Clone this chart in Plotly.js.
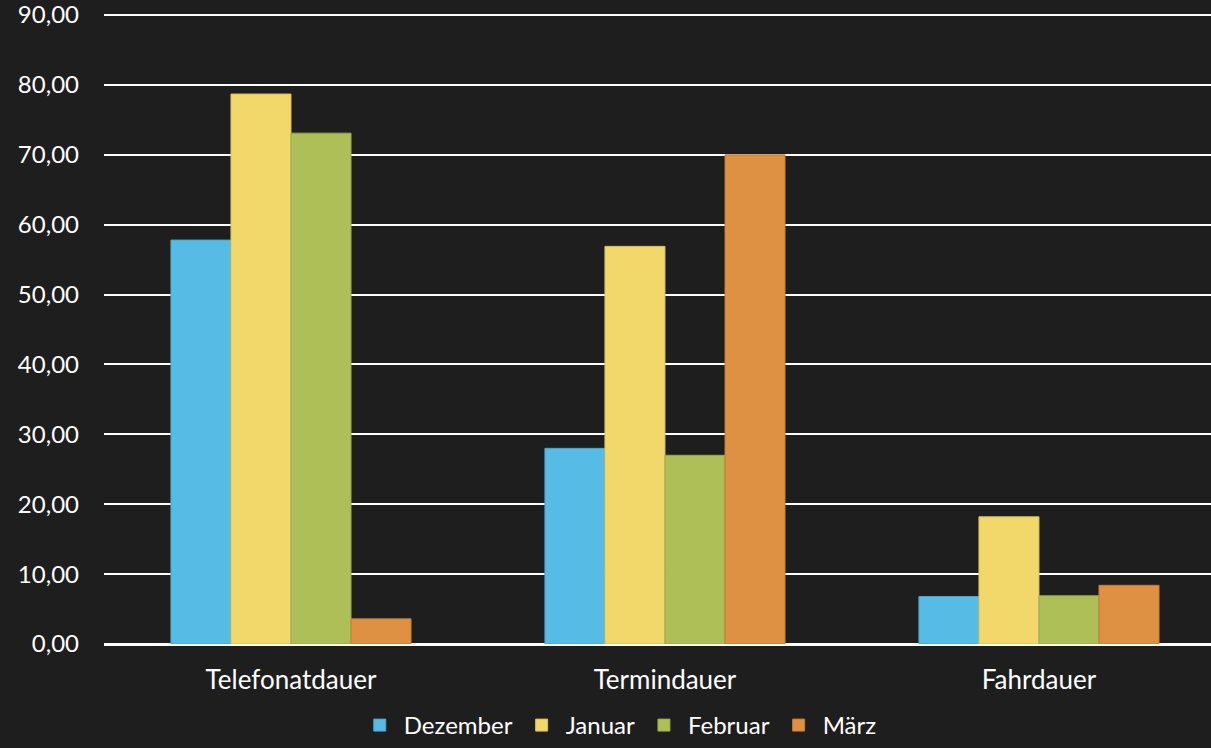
<!DOCTYPE html>
<html>
<head>
<meta charset="utf-8">
<script src="https://cdn.plot.ly/plotly-3.0.1.min.js"></script>
<style>
html,body{margin:0;padding:0;background:#1e1e1e;}
#chart{width:1211px;height:748px;}
</style>
</head>
<body>
<div id="chart"></div>
<script>
const categories = ["Telefonatdauer", "Termindauer", "Fahrdauer"];
const seriesNames = ["Dezember", "Januar", "Februar", "März"];
const dezember = [57.8, 28.0, 6.8];
const januar = [78.7, 56.9, 18.2];
const februar = [73.1, 27.0, 6.9];
const maerz = [3.6, 70.0, 8.4];
const yTicks = [0, 10, 20, 30, 40, 50, 60, 70, 80, 90];

const colors = ["#56BBE5", "#F2D86A", "#AFBF58", "#DE9142"];
const lineColors = ["#4aa6cc", "#d9c05c", "#9aa94c", "#c47c36"];
const values = [dezember, januar, februar, maerz];

const traces = values.map((v, i) => ({
  type: "bar",
  name: seriesNames[i],
  x: categories,
  y: v,
  marker: {color: colors[i], line: {color: lineColors[i], width: 1}},
  hoverinfo: "skip"
}));

const layout = {
  width: 1211,
  height: 748,
  paper_bgcolor: "#1e1e1e",
  plot_bgcolor: "rgba(0,0,0,0)",
  margin: {l: 104, r: 0, t: 14, b: 104},
  separators: ",.",
  font: {family: "Lato, 'Open Sans', sans-serif", color: "#ffffff", size: 20},
  barmode: "group",
  bargap: 0.358,
  bargroupgap: 0,
  xaxis: {
    type: "category",
    range: [-0.5, 2.46],
    showgrid: false,
    zeroline: false,
    showline: false,
    ticks: "",
    tickfont: {size: 26, color: "#ffffff"},
    ticklabelstandoff: 18
  },
  yaxis: {
    range: [0, 90.15],
    tickvals: yTicks,
    tickformat: ".2f",
    showgrid: true,
    gridcolor: "#ffffff",
    gridwidth: 2,
    zeroline: true,
    zerolinecolor: "#ffffff",
    zerolinewidth: 3,
    showline: false,
    ticks: "",
    tickfont: {size: 24, color: "#ffffff"},
    ticklabelstandoff: 24,
    ticklabeloverflow: "allow"
  },
  showlegend: true,
  legend: {
    orientation: "h",
    x: 0.465,
    xanchor: "center",
    yref: "container",
    y: 0,
    yanchor: "bottom",
    font: {size: 24, color: "#ffffff"},
    itemwidth: 38,
    tracegroupgap: 0,
    bgcolor: "rgba(0,0,0,0)"
  }
};

Plotly.newPlot("chart", traces, layout, {displayModeBar: false, staticPlot: true});
</script>
</body>
</html>
